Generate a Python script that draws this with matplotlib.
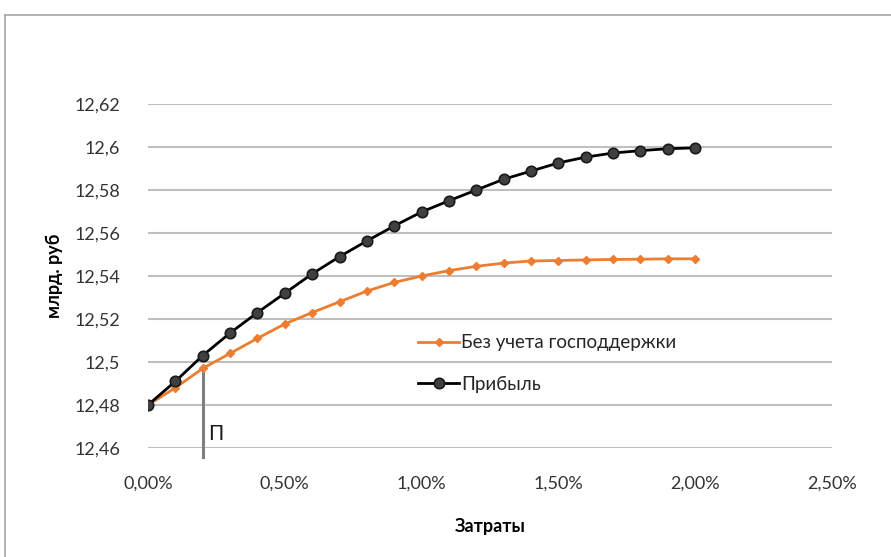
import matplotlib
matplotlib.use('Agg')
import matplotlib.pyplot as plt
from matplotlib.lines import Line2D
from matplotlib.ticker import FuncFormatter, MultipleLocator

# Затраты, % (0.0 ... 2.0 с шагом 0.1)
costs = [0.0, 0.1, 0.2, 0.3, 0.4, 0.5, 0.6, 0.7, 0.8, 0.9, 1.0,
         1.1, 1.2, 1.3, 1.4, 1.5, 1.6, 1.7, 1.8, 1.9, 2.0]
no_support = [12.480, 12.488, 12.497, 12.504, 12.511, 12.5177, 12.523, 12.528,
              12.533, 12.537, 12.540, 12.5425, 12.5445, 12.546, 12.547, 12.5472,
              12.5475, 12.5477, 12.5478, 12.548, 12.548]
profit = [12.480, 12.491, 12.503, 12.5135, 12.523, 12.532, 12.541, 12.549,
          12.5563, 12.5633, 12.5698, 12.575, 12.580, 12.585, 12.5888, 12.5926,
          12.5953, 12.5972, 12.5983, 12.5992, 12.5996]
marker_x = 0.2

plt.rcParams['font.family'] = ['Lato', 'DejaVu Sans']

fig = plt.figure(figsize=(8.91, 5.57), dpi=100)
ax = fig.add_axes([148 / 891, 1 - 448 / 557, (832 - 148) / 891, (448 - 104) / 557])

ax.plot(costs, no_support, color='#ED7D31', lw=2.0, marker='D', ms=4.5,
        mfc='#ED7D31', mec='#ED7D31', label='Без учета господдержки', zorder=3)
ax.plot(costs, profit, color='black', lw=2.0, marker='o', ms=7.5,
        mfc='#404040', mec='#1a1a1a', mew=1.2, label='Прибыль', zorder=4)

# вертикальная линия "П"
ax.plot([marker_x, marker_x], [12.456, no_support[costs.index(marker_x)]],
        color='#7f7f7f', lw=2.2, clip_on=False, zorder=2)
ax.text(marker_x + 0.018, 12.4665, 'П', fontsize=15, color='#1a1a1a',
        va='center', ha='left')

ax.set_xlim(0, 2.5)
ax.set_ylim(12.46, 12.62)
ax.xaxis.set_major_locator(MultipleLocator(0.5))
ax.yaxis.set_major_locator(MultipleLocator(0.02))
ax.xaxis.set_major_formatter(FuncFormatter(lambda v, p: f'{v:.2f}%'.replace('.', ',')))
ax.yaxis.set_major_formatter(FuncFormatter(
    lambda v, p: (f'{v:.2f}'.rstrip('0').rstrip('.')).replace('.', ',')))

ax.grid(axis='y', color='#bfbfbf', lw=1.5)
ax.set_axisbelow(True)
for s in ax.spines.values():
    s.set_visible(False)
ax.tick_params(length=0, labelsize=13, colors='#333333')
ax.tick_params(axis='y', pad=20)
ax.tick_params(axis='x', pad=20)

ax.set_xlabel('Затраты', fontsize=13, fontweight='bold', labelpad=19)
ax.set_ylabel('млрд. руб', fontsize=13, fontweight='bold', labelpad=8)

leg = ax.legend(loc='upper left', bbox_to_anchor=(0.37, 0.38), frameon=False,
                handlelength=2.2, handletextpad=0.1, labelspacing=1.3,
                prop={'size': 13.5})
for t in leg.get_texts():
    t.set_color('#262626')

# рамка области диаграммы
fig.add_artist(Line2D([5 / 891, 1], [1 - 15 / 557, 1 - 15 / 557],
                      transform=fig.transFigure, color='#a6a6a6', lw=1.2))
fig.add_artist(Line2D([5 / 891, 5 / 891], [0, 1 - 15 / 557],
                      transform=fig.transFigure, color='#a6a6a6', lw=1.2))

fig.savefig('out.png', dpi=100)
